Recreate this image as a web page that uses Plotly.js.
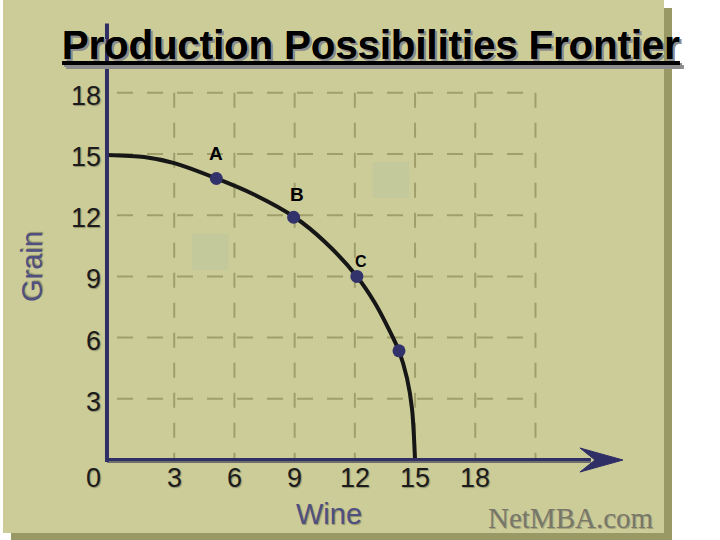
<!DOCTYPE html>
<html>
<head>
<meta charset="utf-8">
<script src="https://cdn.plot.ly/plotly-3.0.1.min.js"></script>
<style>
  html, body { margin: 0; padding: 0; background: #ffffff; overflow: hidden; }
  #panel { position: absolute; left: 3px; top: 0px; width: 661px; height: 533px;
           background: #cccc99; box-shadow: 8px 8px 0 #999966; }
  #chart { position: absolute; left: 0; top: 0; width: 720px; height: 540px; }
</style>
</head>
<body>
<div id="panel"></div>
<div id="chart"></div>
<script>
// ---- data ----
const chartTitle = 'Production Possibilities Frontier';
const xAxisTitle = 'Wine';
const yAxisTitle = 'Grain';
const watermark = 'NetMBA.com';

const xTickVals = [3, 6, 9, 12, 15, 18];
const xTickText = ['3', '6', '9', '12', '15', '18'];
const yTickVals = [3, 6, 9, 12, 15, 18];
const yTickText = ['3', '6', '9', '12', '15', '18'];
const originLabel = '0';

const gridXVals = [3, 6, 9, 12, 15, 18, 21];
const gridYVals = [3, 6, 9, 12, 15, 18];

// frontier curve
const curveX = [-0.35, 1.5, 3.0, 5.1, 7.0, 9.0, 10.5, 12.1, 13.0, 13.9, 14.2, 14.6, 14.85, 15.0];
const curveY = [14.95, 14.85, 14.55, 13.8, 13.0, 11.9, 10.7, 9.0, 7.7, 6.0, 5.35, 4.0, 2.5, 0];

// marked points
const pointX = [5.1, 8.95, 12.1, 14.2];
const pointY = [13.8, 11.9, 9.0, 5.35];
const pointLabels = ['A', 'B', 'C', ''];

// light squares (x0, x1, y0, y1)
const squareX0 = [3.9, 12.9];
const squareX1 = [5.7, 14.7];
const squareY0 = [9.3, 12.85];
const squareY1 = [11.1, 14.6];

// ---- styling / layout ----
const FONT = 'Liberation Sans, Arial, Helvetica, sans-serif';
const NAVY = '#2f2f66';
const GRID = '#a09f6b';
const axisX = -0.35;     // position of the vertical axis line
const axisTop = 21.4;
const arrowTip = 25.36;

const shapes = [];
// grid lines
gridYVals.forEach(v => shapes.push({
  type: 'line', xref: 'x', yref: 'y', x0: 0.15, x1: 20.38, y0: v, y1: v,
  line: { color: GRID, width: 2, dash: '16px,14px' }, layer: 'below'
}));
gridXVals.forEach(v => shapes.push({
  type: 'line', xref: 'x', yref: 'y', x0: v, x1: v, y0: 18, y1: 0,
  line: { color: GRID, width: 2, dash: '15px,15px' }, layer: 'below'
}));
// squares
squareX0.forEach((x0, i) => shapes.push({
  type: 'rect', xref: 'x', yref: 'y', x0: x0, x1: squareX1[i], y0: squareY0[i], y1: squareY1[i],
  fillcolor: '#c3c99b', line: { width: 0 }, layer: 'below'
}));
// x axis (shadow + line)
shapes.push({ type: 'line', xref: 'x', yref: 'y', x0: axisX, x1: arrowTip - 1.6, y0: -0.1, y1: -0.1,
  line: { color: '#6e6e6e', width: 2 } });
shapes.push({ type: 'line', xref: 'x', yref: 'y', x0: axisX, x1: arrowTip - 1.6, y0: 0.03, y1: 0.03,
  line: { color: NAVY, width: 3 } });
// arrow head
shapes.push({ type: 'path', xref: 'x', yref: 'y', xsizemode: 'pixel', ysizemode: 'pixel',
  xanchor: arrowTip, yanchor: 0, path: 'M0,0 L-43,12 L-28,0 L-43,-12 Z',
  fillcolor: NAVY, line: { color: NAVY, width: 1 } });
// y axis
shapes.push({ type: 'line', xref: 'x', yref: 'y', x0: axisX, x1: axisX, y0: -0.1, y1: axisTop,
  line: { color: NAVY, width: 4 } });

const annotations = [];
const tickFont = { family: FONT, size: 27, color: '#1c1c1c', shadow: '1px 1px 1px #8f8f6a' };
yTickVals.forEach((v, i) => annotations.push({
  x: axisX, y: v, xref: 'x', yref: 'y', text: yTickText[i], showarrow: false,
  xanchor: 'right', yanchor: 'middle', xshift: -4, yshift: -3, font: tickFont
}));
xTickVals.forEach((v, i) => annotations.push({
  x: v, y: 0, xref: 'x', yref: 'y', text: xTickText[i], showarrow: false,
  xanchor: 'center', yanchor: 'middle', yshift: -18, font: tickFont
}));
annotations.push({ x: 0, y: 0, xref: 'x', yref: 'y', text: originLabel, showarrow: false,
  xanchor: 'center', yanchor: 'middle', xshift: -21, yshift: -18, font: tickFont });

const labelShiftX = [0, 3, 4];
const labelShiftY = [25, 23, 15];
const labelSize = [19, 19, 16];
pointLabels.forEach((t, i) => { if (t) annotations.push({
  x: pointX[i], y: pointY[i], xref: 'x', yref: 'y', text: t, showarrow: false,
  xanchor: 'center', yanchor: 'middle', xshift: labelShiftX[i], yshift: labelShiftY[i],
  font: { family: FONT, size: labelSize[i], color: '#000000', weight: 'bold' }
}); });

// axis titles and watermark
annotations.push({ x: (32 - 94) / 540, y: (500 - 267) / 490, xref: 'paper', yref: 'paper',
  text: yAxisTitle, textangle: -90, showarrow: false, xanchor: 'center', yanchor: 'middle',
  font: { family: FONT, size: 29, color: '#4f4f80', shadow: '1px 1px 1px #8f8f6a' } });
annotations.push({ x: (329 - 94) / 540, y: (500 - 514) / 490, xref: 'paper', yref: 'paper',
  text: xAxisTitle, showarrow: false, xanchor: 'center', yanchor: 'middle',
  font: { family: FONT, size: 29, color: '#4f4f80', shadow: '1px 1px 1px #8f8f6a' } });
annotations.push({ x: (571 - 94) / 540, y: (500 - 518) / 490, xref: 'paper', yref: 'paper',
  text: watermark, showarrow: false, xanchor: 'center', yanchor: 'middle',
  font: { family: 'Liberation Serif, Times New Roman, serif', size: 29, color: '#77776a',
          shadow: '1px 1px 0px #a5a57a' } });

const traces = [
  { x: curveX, y: curveY, type: 'scatter', mode: 'lines',
    line: { color: '#161616', width: 4, shape: 'spline', smoothing: 0.8 }, hoverinfo: 'skip' },
  { x: pointX, y: pointY, type: 'scatter', mode: 'markers',
    marker: { color: '#33336b', size: 13, line: { width: 0 } }, hoverinfo: 'skip' }
];

const layout = {
  width: 720, height: 540,
  margin: { l: 94, r: 86, t: 10, b: 40, pad: 0 },
  paper_bgcolor: 'rgba(0,0,0,0)', plot_bgcolor: 'rgba(0,0,0,0)',
  showlegend: false, hovermode: false,
  title: {
    text: chartTitle, xref: 'container', yref: 'container',
    x: 371 / 720, xanchor: 'center', y: 1 - 45 / 540, yanchor: 'middle',
    font: { family: FONT, size: 40, color: '#000000', weight: 'bold',
            lineposition: 'under', shadow: '2px 2px 0px #8c8c8c' }
  },
  xaxis: { range: [-0.9965, 25.909], visible: false, fixedrange: true },
  yaxis: { range: [-1.961, 22.059], visible: false, fixedrange: true },
  shapes: shapes,
  annotations: annotations
};

Plotly.newPlot('chart', traces, layout, { staticPlot: true, displayModeBar: false });
</script>
</body>
</html>
